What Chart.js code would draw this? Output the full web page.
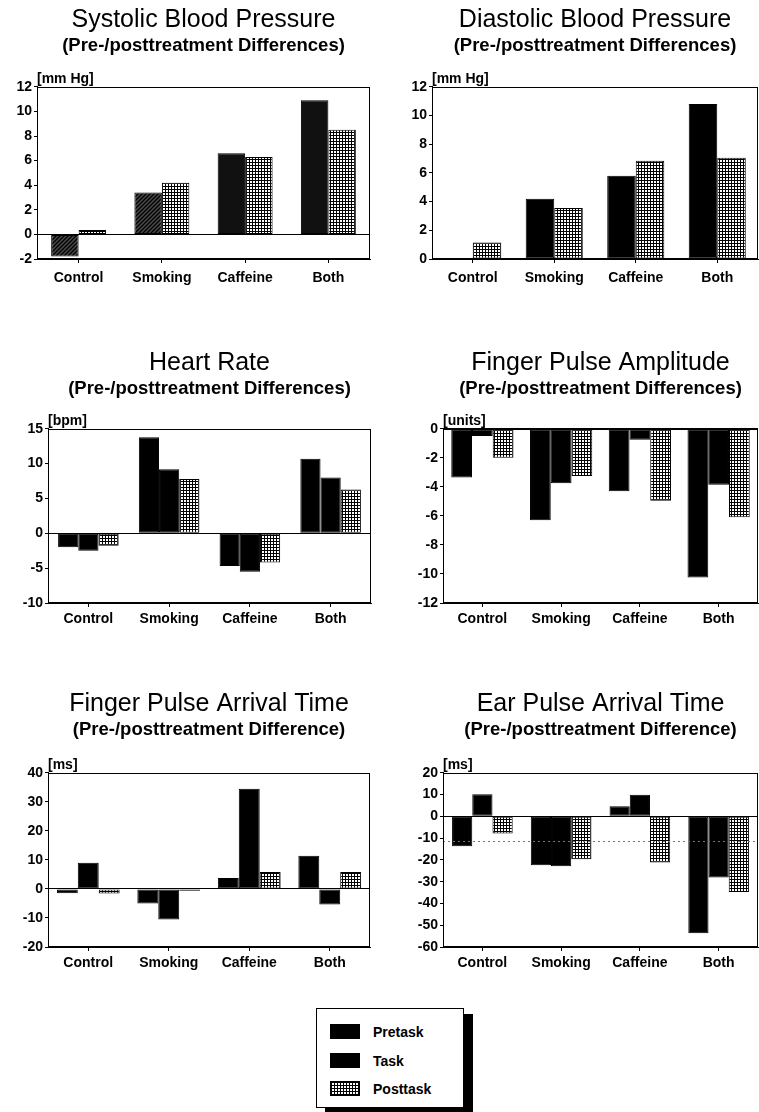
<!DOCTYPE html>
<html>
<head>
<meta charset="utf-8">
<script src="https://cdn.jsdelivr.net/npm/chart.js@4.4.1/dist/chart.umd.min.js"></script>
<style>
  html, body { margin: 0; padding: 0; background: #fff; }
  body { width: 759px; height: 1112px; position: relative; overflow: hidden; font-family: "Liberation Sans", Arial, sans-serif; }
  .panel { position: absolute; }
  .legend { position: absolute; left: 316px; top: 1008px; width: 146px; height: 98px; border: 1px solid #000; background: #fff; box-shadow: 9px 6px 0 #000; }
  .row { position: absolute; left: 13px; height: 15px; display: flex; align-items: center; }
  .sw { width: 30px; height: 15px; box-sizing: border-box; border: 1px solid #000; background: #000; margin-right: 13px; }
  .sw.post { background-color: #fff; background-image: linear-gradient(#000 1px, transparent 1px), linear-gradient(90deg, #000 1px, transparent 1px); background-size: 3px 3px; }
  .lbl { font: bold 14px "Liberation Sans", Arial, sans-serif; color: #000; }
</style>
</head>
<body>
<div class="panel" style="left:0;top:0"><canvas id="c1" width="380" height="300"></canvas></div>
<div class="panel" style="left:380px;top:0"><canvas id="c2" width="379" height="300"></canvas></div>
<div class="panel" style="left:0;top:343px"><canvas id="c3" width="380" height="300"></canvas></div>
<div class="panel" style="left:380px;top:343px"><canvas id="c4" width="379" height="300"></canvas></div>
<div class="panel" style="left:0;top:684px"><canvas id="c5" width="380" height="300"></canvas></div>
<div class="panel" style="left:380px;top:684px"><canvas id="c6" width="379" height="300"></canvas></div>

<div class="legend">
  <div class="row" style="top:15px"><div class="sw"></div><span class="lbl">Pretask</span></div>
  <div class="row" style="top:44px"><div class="sw"></div><span class="lbl">Task</span></div>
  <div class="row" style="top:72px"><div class="sw post"></div><span class="lbl">Posttask</span></div>
</div>

<script>
// ---------------- DATA ----------------
const categories = ['Control', 'Smoking', 'Caffeine', 'Both'];
const seriesNames = ['Pretask', 'Task', 'Posttask'];

const sbpPretask  = [-1.8, 3.4, 6.6, 10.9];
const sbpPosttask = [0.35, 4.2, 6.3, 8.5];

const dbpPretask  = [0.05, 4.2, 5.8, 10.8];
const dbpPosttask = [1.15, 3.55, 6.85, 7.05];

const hrPretask  = [-2.0, 13.8, -4.7, 10.7];
const hrTask     = [-2.5, 9.2, -5.5, 8.0];
const hrPosttask = [-1.8, 7.8, -4.2, 6.3];

const fpaPretask  = [-3.35, -6.3, -4.3, -10.25];
const fpaTask     = [-0.5, -3.75, -0.75, -3.85];
const fpaPosttask = [-2.0, -3.25, -4.95, -6.1];

const fpatPretask  = [-1.5, -5.0, 3.8, 11.4];
const fpatTask     = [9.0, -10.5, 34.5, -5.4];
const fpatPosttask = [-1.6, -0.6, 5.8, 5.8];

const epatPretask  = [-13.7, -22.4, 4.6, -53.7];
const epatTask     = [10.1, -22.9, 9.9, -28.1];
const epatPosttask = [-7.9, -19.7, -21.2, -34.7];
const epatRefLine = -11.5;

// ---------------- STYLES ----------------
const FONT = '"Liberation Sans", Arial, sans-serif';

function gridPattern() {
  const c = document.createElement('canvas');
  c.width = 3; c.height = 3;
  const g = c.getContext('2d');
  g.fillStyle = '#fff'; g.fillRect(0, 0, 3, 3);
  g.fillStyle = '#000'; g.fillRect(0, 0, 3, 1); g.fillRect(0, 0, 1, 3);
  return g.createPattern(c, 'repeat');
}
function hatchPattern() {
  const c = document.createElement('canvas');
  c.width = 4; c.height = 4;
  const g = c.getContext('2d');
  g.fillStyle = '#4a4a4a'; g.fillRect(0, 0, 4, 4);
  g.strokeStyle = '#000'; g.lineWidth = 1.3;
  g.beginPath(); g.moveTo(0, 4); g.lineTo(4, 0); g.moveTo(-1, 1); g.lineTo(1, -1); g.moveTo(3, 5); g.lineTo(5, 3); g.stroke();
  return g.createPattern(c, 'repeat');
}
const POST = gridPattern();
const HATCH = hatchPattern();

const framePlugin = {
  id: 'frame',
  afterDatasetsDraw(chart, args, opts) {
    const { ctx, chartArea: a } = chart;
    ctx.save();
    if (opts.refLine !== undefined && opts.refLine !== null) {
      const y = Math.round(chart.scales.y.getPixelForValue(opts.refLine)) + 0.5;
      ctx.strokeStyle = '#777'; ctx.lineWidth = 1; ctx.setLineDash([2, 3]);
      ctx.beginPath(); ctx.moveTo(a.left, y); ctx.lineTo(a.right, y); ctx.stroke();
      ctx.setLineDash([]);
    }
    ctx.strokeStyle = '#000'; ctx.lineWidth = 1;
    ctx.strokeRect(Math.round(a.left) + 0.5, Math.round(a.top) + 0.5,
                   Math.round(a.right - a.left) - 1, Math.round(a.bottom - a.top) - 1);
    ctx.fillStyle = '#000';
    ctx.font = 'bold 14px ' + FONT;
    ctx.textAlign = 'left'; ctx.textBaseline = 'middle';
    ctx.fillText(opts.unit, a.left, a.top - 8);
    ctx.restore();
  }
};

function makeChart(id, cfg) {
  const datasets = cfg.series.map(s => ({
    label: s.label,
    data: s.data,
    backgroundColor: s.bg,
    borderColor: '#000',
    borderWidth: 1,
    borderSkipped: false,
    categoryPercentage: cfg.catPct,
    barPercentage: 1.0
  }));
  return new Chart(document.getElementById(id), {
    type: 'bar',
    data: { labels: categories, datasets },
    plugins: [framePlugin],
    options: {
      responsive: false,
      animation: false,
      devicePixelRatio: 1,
      layout: { padding: { left: 0, right: cfg.padRight, top: 0, bottom: 0 } },
      plugins: {
        legend: { display: false },
        tooltip: { enabled: false },
        title: {
          display: true, text: cfg.title, fullSize: false, color: '#000',
          font: { family: FONT, size: 25, weight: 'normal' },
          padding: { top: 5, bottom: 0 }
        },
        subtitle: {
          display: true, text: cfg.subtitle, fullSize: false, color: '#000',
          font: { family: FONT, size: 18.5, weight: 'bold' },
          padding: { top: 0, bottom: cfg.subPad - 1 }
        },
        frame: { unit: cfg.unit, refLine: cfg.refLine }
      },
      scales: {
        x: {
          offset: true,
          grid: { display: true, drawOnChartArea: false, offset: false, drawTicks: true, tickLength: 4, color: '#000', tickColor: '#000' },
          border: { display: true, color: '#000' },
          ticks: { color: '#000', padding: cfg.xPad, font: { family: FONT, size: 14, weight: 'bold' }, maxRotation: 0 },
          afterFit: s => { s.height = cfg.xH; }
        },
        y: {
          min: cfg.min, max: cfg.max,
          grid: {
            drawOnChartArea: true, drawTicks: true, tickLength: 3,
            color: c => (c.tick && c.tick.value === 0) ? '#000' : 'rgba(0,0,0,0)',
            tickColor: '#000'
          },
          border: { display: true, color: '#000' },
          ticks: { stepSize: cfg.step, color: '#000', padding: 2, font: { family: FONT, size: 14, weight: 'bold' } },
          afterFit: s => { s.width = cfg.yW; }
        }
      }
    }
  });
}

const SUB1 = '(Pre-/posttreatment Differences)';
const SUB2 = '(Pre-/posttreatment Difference)';

makeChart('c1', {
  title: 'Systolic Blood Pressure', subtitle: SUB1, unit: '[mm Hg]',
  min: -2, max: 12, step: 2, yW: 37, padRight: 10, xH: 41, xPad: 7, subPad: 30.6, catPct: 0.66,
  series: [
    { label: seriesNames[0], data: sbpPretask, bg: [HATCH, HATCH, '#111', '#111'] },
    { label: seriesNames[2], data: sbpPosttask, bg: POST }
  ]
});
makeChart('c2', {
  title: 'Diastolic Blood Pressure', subtitle: SUB1, unit: '[mm Hg]',
  min: 0, max: 12, step: 2, yW: 52, padRight: 1, xH: 41, xPad: 7, subPad: 30.6, catPct: 0.70,
  series: [
    { label: seriesNames[0], data: dbpPretask, bg: '#000' },
    { label: seriesNames[2], data: dbpPosttask, bg: POST }
  ]
});
makeChart('c3', {
  title: 'Heart Rate', subtitle: SUB1, unit: '[bpm]',
  min: -10, max: 15, step: 5, yW: 48, padRight: 9, xH: 40, xPad: 4, subPad: 29.6, catPct: 0.75,
  series: [
    { label: seriesNames[0], data: hrPretask, bg: '#000' },
    { label: seriesNames[1], data: hrTask, bg: '#000' },
    { label: seriesNames[2], data: hrPosttask, bg: POST }
  ]
});
makeChart('c4', {
  title: 'Finger Pulse Amplitude', subtitle: SUB1, unit: '[units]',
  min: -12, max: 0, step: 2, yW: 63, padRight: 1, xH: 40, xPad: 4, subPad: 29.6, catPct: 0.79,
  series: [
    { label: seriesNames[0], data: fpaPretask, bg: '#000' },
    { label: seriesNames[1], data: fpaTask, bg: '#000' },
    { label: seriesNames[2], data: fpaPosttask, bg: POST }
  ]
});
makeChart('c5', {
  title: 'Finger Pulse Arrival Time', subtitle: SUB2, unit: '[ms]',
  min: -20, max: 40, step: 10, yW: 48, padRight: 10, xH: 37, xPad: 4, subPad: 32.6, catPct: 0.78,
  series: [
    { label: seriesNames[0], data: fpatPretask, bg: '#000' },
    { label: seriesNames[1], data: fpatTask, bg: '#000' },
    { label: seriesNames[2], data: fpatPosttask, bg: POST }
  ]
});
makeChart('c6', {
  title: 'Ear Pulse Arrival Time', subtitle: SUB2, unit: '[ms]', refLine: epatRefLine,
  min: -60, max: 20, step: 10, yW: 63, padRight: 1, xH: 37, xPad: 4, subPad: 32.6, catPct: 0.77,
  series: [
    { label: seriesNames[0], data: epatPretask, bg: '#000' },
    { label: seriesNames[1], data: epatTask, bg: '#000' },
    { label: seriesNames[2], data: epatPosttask, bg: POST }
  ]
});
</script>
</body>
</html>
